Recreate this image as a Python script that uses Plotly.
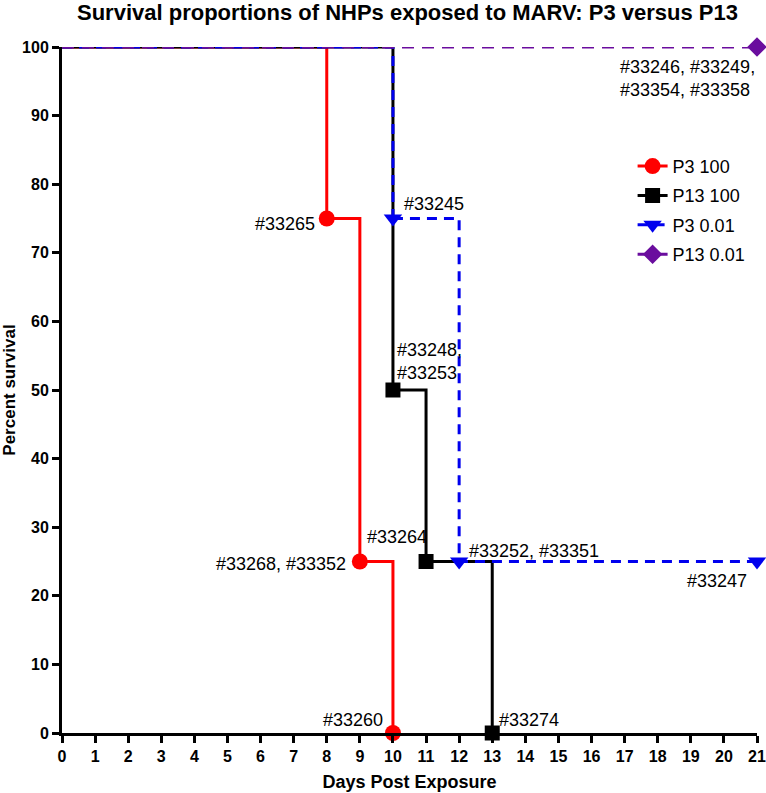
import plotly.graph_objects as go

# ---- data ----
days_p3_100 = [0, 8, 9, 10]
surv_p3_100 = [100, 75, 25, 0]
days_p13_100 = [0, 10, 11, 13]
surv_p13_100 = [100, 50, 25, 0]
days_p3_001 = [0, 10, 12, 21]
surv_p3_001 = [100, 75, 25, 25]
days_p13_001 = [0, 21]
surv_p13_001 = [100, 100]

series_names = ["P3 100", "P13 100", "P3 0.01", "P13 0.01"]
x_ticks = list(range(0, 22))
y_ticks = list(range(0, 101, 10))

# annotations: (x, y, text)
labels = [
    (8, 75, "#33265"),
    (10, 75, "#33245"),
    (10, 50, "#33248,<br>#33253"),
    (11, 25, "#33264"),
    (9, 25, "#33268, #33352"),
    (12, 25, "#33252, #33351"),
    (21, 25, "#33247"),
    (10, 0, "#33260"),
    (13, 0, "#33274"),
    (21, 100, "#33246, #33249,<br>#33354, #33358"),
]
# label placement styling
label_style = [
    dict(xanchor="right", yanchor="middle", xshift=-10, yshift=-5),
    dict(xanchor="left", yanchor="middle", xshift=9, yshift=15),
    dict(xanchor="left", yanchor="bottom", xshift=2, yshift=5),
    dict(xanchor="right", yanchor="middle", xshift=3, yshift=25),
    dict(xanchor="right", yanchor="middle", xshift=-12, yshift=-2),
    dict(xanchor="left", yanchor="middle", xshift=8, yshift=11),
    dict(xanchor="right", yanchor="middle", xshift=-8, yshift=-19),
    dict(xanchor="right", yanchor="middle", xshift=-8, yshift=13),
    dict(xanchor="left", yanchor="middle", xshift=5, yshift=13),
    dict(xanchor="right", yanchor="top", xshift=0, yshift=-8),
]

fig = go.Figure()

def add_series(x, y, name, color, symbol, msize, dash, width):
    # initial segment (before first event), no legend entry
    fig.add_trace(go.Scatter(
        x=x[:2], y=y[:2], name=name, mode="lines", showlegend=False,
        line=dict(shape="hv", color=color, dash=dash, width=width),
        cliponaxis=False, legendgroup=name, hoverinfo="skip",
    ))
    # event points (drops) and following steps
    fig.add_trace(go.Scatter(
        x=x[1:], y=y[1:], name=name, mode="lines+markers",
        line=dict(shape="hv", color=color, dash=dash, width=width),
        marker=dict(symbol=symbol, size=msize, color=color, opacity=1, line=dict(width=0)),
        cliponaxis=False, legendgroup=name,
    ))

add_series(days_p3_100, surv_p3_100, series_names[0], "#ff0000", "circle", 16, "solid", 3)
add_series(days_p13_100, surv_p13_100, series_names[1], "#000000", "square", 15, "solid", 3)
add_series(days_p3_001, surv_p3_001, series_names[2], "#0000ee", "triangle-down", 16, "10px,7px", 3)
add_series(days_p13_001, surv_p13_001, series_names[3], "#6a0d9e", "diamond", 15, "12px,8px", 2.8)

for (x, y, t), st in zip(labels, label_style):
    fig.add_annotation(x=x, y=y, text=t, showarrow=False, align="left",
                       font=dict(size=18, color="#000000", family="Liberation Sans, Arial"),
                       **st)

axis_common = dict(
    showline=True, linecolor="#000000", linewidth=3, mirror=False,
    ticks="outside", ticklen=7, tickwidth=2.5, tickcolor="#000000",
    showgrid=False, zeroline=False, automargin=False,
    tickfont=dict(family="Liberation Sans, Arial", size=16, color="#000000", weight="bold"),
)

fig.update_xaxes(range=[0, 21], tickvals=x_ticks, **axis_common,
                 title=dict(text="<b>Days Post Exposure</b>", standoff=12,
                            font=dict(family="Liberation Sans, Arial", size=18, color="#000000")))
fig.update_yaxes(range=[0, 100], tickvals=y_ticks, **axis_common,
                 title=dict(text="<b>Percent survival</b>", standoff=3,
                            font=dict(family="Liberation Sans, Arial", size=17, color="#000000")))

fig.update_layout(
    width=766, height=793,
    margin=dict(l=62, r=9, t=47, b=60),
    plot_bgcolor="white", paper_bgcolor="white",
    title=dict(text="<b>Survival proportions of NHPs exposed to MARV: P3 versus P13</b>",
               x=0.532, xanchor="center", y=0.984, yanchor="middle",
               font=dict(family="Liberation Sans, Arial", size=22, color="#000000")),
    legend=dict(x=0.821, y=0.853, xanchor="left", yanchor="top",
                font=dict(family="Liberation Sans, Arial", size=18, color="#000000"),
                tracegroupgap=3, bgcolor="rgba(0,0,0,0)"),
    showlegend=True,
)

fig.write_html("out.html", config={"displayModeBar": False},
               post_script="document.body.style.margin='0';")
